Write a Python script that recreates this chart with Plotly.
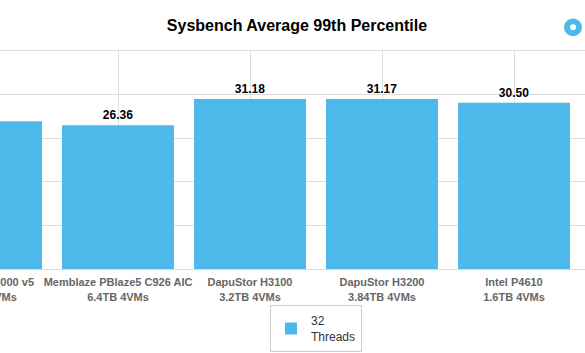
import plotly.graph_objects as go

# ---- data ----
categories = [
    "Huawei ES3000 v5<br>3.2TB 4VMs",
    "Memblaze PBlaze5 C926 AIC<br>6.4TB 4VMs",
    "DapuStor H3100<br>3.2TB 4VMs",
    "DapuStor H3200<br>3.84TB 4VMs",
    "Intel P4610<br>1.6TB 4VMs",
]
values_32_threads = [27.13, 26.36, 31.18, 31.17, 30.50]
series_name = "32<br>Threads"
title_text = "Sysbench Average 99th Percentile"

# ---- layout constants ----
FIG_W = 665          # full chart width; the left part is framed out of the window
SHIFT = 80           # px of the chart hidden to the left of the window
CAT_PX = 132         # pixel width of one category
FIG_H = 353
TOP, BOTTOM = 51, 81
PLOT_H = FIG_H - TOP - BOTTOM

BAR_COLOR = "#4cb9ea"
GRID = "#dcdcdc"
FONT = "Liberation Sans, Arial, sans-serif"

x_idx = list(range(len(categories)))
x_start = -0.5

# value labels: the chart hides labels whose bar centre lies outside the visible window
visible_left = x_start + SHIFT / CAT_PX
labels = [f"{v:.2f}" if i >= visible_left else "" for i, v in zip(x_idx, values_32_threads)]


def py(px_from_top):
    return (FIG_H - BOTTOM - px_from_top) / PLOT_H


def px(px_from_left):
    return (SHIFT + px_from_left) / FIG_W


fig = go.Figure()
fig.add_trace(go.Bar(
    x=x_idx,
    y=values_32_threads,
    name=series_name,
    marker=dict(color=BAR_COLOR, line=dict(width=0)),
    text=labels,
    texttemplate="%{text}",
    textposition="outside",
    textfont=dict(family=FONT, size=12, color="#000000", weight="bold"),
    cliponaxis=False,
    hoverinfo="skip",
))

fig.update_layout(
    width=FIG_W,
    height=FIG_H,
    margin=dict(l=0, r=0, t=TOP, b=BOTTOM, pad=0),
    paper_bgcolor="white",
    plot_bgcolor="white",
    bargap=0.152,
    title=dict(
        text=title_text,
        x=px(297),
        xanchor="center",
        xref="paper",
        y=1 - 25 / FIG_H,
        yanchor="middle",
        font=dict(family=FONT, size=16, color="#000000", weight="bold"),
    ),
    xaxis=dict(
        tickmode="array",
        tickvals=x_idx,
        ticktext=categories,
        range=[x_start, x_start + FIG_W / CAT_PX],
        showgrid=True,
        gridcolor=GRID,
        gridwidth=1,
        tickson="boundaries",
        ticks="",
        showline=True,
        mirror=True,
        linecolor=GRID,
        linewidth=1,
        zeroline=False,
        ticklabelstandoff=3,
        tickfont=dict(family=FONT, size=11, color="#666666", weight="bold"),
        fixedrange=True,
    ),
    yaxis=dict(
        range=[0, 40],
        dtick=8,
        showticklabels=False,
        showgrid=True,
        gridcolor=GRID,
        gridwidth=1,
        zeroline=False,
        ticks="",
        fixedrange=True,
    ),
    showlegend=True,
    legend=dict(
        x=px(316),
        xanchor="center",
        y=py(309),
        yanchor="top",
        bordercolor="#cccccc",
        borderwidth=1,
        font=dict(family=FONT, size=12, color="#333333"),
        bgcolor="white",
        itemwidth=30,
    ),
    shapes=[
        dict(type="circle", xref="paper", yref="paper",
             x0=px(564), x1=px(582), y0=py(36), y1=py(18),
             fillcolor="#4cb9ea", line=dict(width=0)),
        dict(type="circle", xref="paper", yref="paper",
             x0=px(570), x1=px(576), y0=py(30), y1=py(24),
             fillcolor="white", line=dict(width=0)),
    ],
)

post = (
    "var gd=document.getElementById('{plot_id}');"
    "gd.style.marginLeft='-%dpx';"
    "document.body.style.margin='0';"
    "document.body.style.overflow='hidden';" % SHIFT
)

fig.write_html("out.html", config={"displayModeBar": False}, post_script=post)
